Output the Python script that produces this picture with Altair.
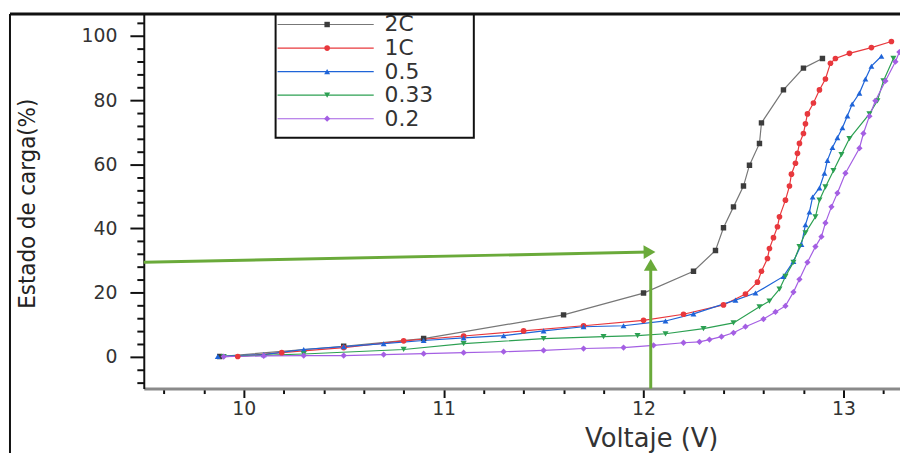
import altair as alt
import pandas as pd

# ---------------- data ----------------
series_names = ["2C", "1C", "0.5", "0.33", "0.2"]
marker_colors = ["#3c3c3c", "#e8383d", "#1f64d8", "#2ca052", "#a45fe3"]
line_colors = ["#777777", "#e8383d", "#1f64d8", "#2ca052", "#a45fe3"]
marker_shapes = ["square", "circle", "triangle-up", "triangle-down", "diamond"]
marker_sizes = [30, 40, 55, 55, 60]

v_2c = [9.88, 10.5, 10.9, 11.6, 12.0, 12.25, 12.36, 12.40, 12.45, 12.50, 12.53, 12.58, 12.59, 12.70, 12.80, 12.895]
soc_2c = [0.0, 3.2, 5.6, 13.0, 19.8, 26.6, 33.1, 40.2, 46.7, 53.2, 59.7, 66.5, 72.9, 83.2, 90.0, 93.0]

v_1c = [9.97, 10.19, 10.5, 10.8, 11.1, 11.4, 11.7, 12.0, 12.2, 12.40, 12.51, 12.57, 12.59, 12.62, 12.63,
        12.65, 12.67, 12.68, 12.71, 12.73, 12.74, 12.76, 12.77, 12.78, 12.80, 12.81, 12.82, 12.85, 12.88,
        12.91, 12.935, 12.96, 13.03, 13.14, 13.24]
soc_1c = [0.0, 1.2, 2.8, 4.9, 6.4, 8.0, 9.6, 11.3, 13.2, 16.1, 19.5, 23.2, 26.6, 30.6, 33.7,
          37.1, 40.5, 43.6, 48.8, 53.2, 56.9, 60.3, 63.4, 66.5, 69.6, 72.6, 75.7, 79.1, 83.2,
          86.6, 91.5, 93.0, 94.6, 96.4, 98.3]

v_05 = [9.87, 10.1, 10.3, 10.5, 10.7, 10.9, 11.1, 11.3, 11.5, 11.7, 11.9, 12.11, 12.25, 12.46, 12.56,
        12.70, 12.75, 12.79, 12.81, 12.83, 12.846, 12.88, 12.905, 12.92, 12.945, 12.97, 12.995, 13.02,
        13.044, 13.08, 13.11, 13.14, 13.19]
soc_05 = [0.0, 0.6, 2.2, 3.1, 4.0, 5.0, 5.8, 6.5, 8.0, 9.3, 9.6, 11.1, 13.3, 17.6, 19.8,
          25.0, 29.7, 35.0, 41.1, 45.1, 49.8, 52.6, 57.2, 61.2, 65.2, 68.3, 71.4, 75.1,
          78.8, 82.2, 86.6, 90.6, 93.7]

v_033 = [9.9, 10.3, 10.8, 11.1, 11.5, 11.8, 11.97, 12.11, 12.30, 12.45, 12.58, 12.63, 12.68, 12.71,
         12.75, 12.78, 12.81, 12.86, 12.88, 12.91, 12.95, 12.99, 13.03, 13.13, 13.17, 13.20, 13.25]
soc_033 = [0.0, 0.8, 2.2, 4.0, 5.6, 6.2, 6.5, 7.1, 8.7, 10.5, 15.5, 17.3, 21.0, 25.0,
           29.4, 34.3, 38.6, 43.6, 48.8, 52.9, 58.0, 63.0, 68.0, 75.7, 79.8, 86.0, 93.0]

v_02 = [9.9, 10.1, 10.3, 10.5, 10.7, 10.9, 11.1, 11.3, 11.5, 11.7, 11.9, 12.05, 12.20, 12.28, 12.33,
        12.39, 12.45, 12.51, 12.60, 12.66, 12.71, 12.75, 12.78, 12.82, 12.86, 12.89, 12.91, 12.94,
        12.97, 13.01, 13.08, 13.10, 13.13, 13.16, 13.21, 13.26, 13.28]
soc_02 = [0.0, 0.2, 0.3, 0.3, 0.6, 0.9, 1.2, 1.5, 1.9, 2.5, 2.8, 3.5, 4.3, 4.6, 5.3,
          6.2, 7.4, 9.3, 11.7, 13.9, 15.8, 20.1, 24.1, 29.4, 34.3, 37.4, 41.7, 46.7,
          51.0, 57.2, 65.0, 69.6, 75.0, 79.8, 86.0, 92.0, 95.0]

x_ticks = [9.6, 9.8, 10.0, 10.2, 10.4, 10.6, 10.8, 11.0, 11.2, 11.4, 11.6, 11.8,
           12.0, 12.2, 12.4, 12.6, 12.8, 13.0, 13.2]
y_ticks = [-8, -4, 0, 4, 8, 12, 16, 20, 24, 28, 32, 36, 40, 44, 48, 52, 56, 60,
           64, 68, 72, 76, 80, 84, 88, 92, 96, 100, 104]

# arrows (annotation, data coordinates)
arrow_v = [9.5, 12.036]
arrow_soc = [29.4, -10.0]
arrow_v2 = [12.03, 12.036]
arrow_soc2 = [32.6, 28.6]
arrow_shape = ["triangle-right", "triangle-up"]
arrow_angle = [359, 0]

# legend rows (in the chart's SOC units, top to bottom)
legend_soc = [103.6, 96.25, 88.9, 81.55, 74.2]

# ---------------- tables ----------------
rows = []
for name, vs, ss in [("2C", v_2c, soc_2c), ("1C", v_1c, soc_1c), ("0.5", v_05, soc_05),
                     ("0.33", v_033, soc_033), ("0.2", v_02, soc_02)]:
    for v, s in zip(vs, ss):
        rows.append({"serie": name, "V": v, "SOC": s})
df = pd.DataFrame(rows)

legend_df = pd.DataFrame({"serie": series_names, "SOC": legend_soc})
arrows_df = pd.DataFrame({"V": arrow_v, "SOC": arrow_soc, "V2": arrow_v2, "SOC2": arrow_soc2,
                          "forma": arrow_shape, "ang": arrow_angle})

# ---------------- scales / axes ----------------
W, H = 763, 378
x_scale = alt.Scale(domain=[9.5, 13.283], nice=False, zero=False)
y_scale = alt.Scale(domain=[-10, 106.9], nice=False, zero=False)
color_scale = alt.Scale(domain=series_names, range=marker_colors)
stroke_scale = alt.Scale(domain=series_names, range=line_colors)
shape_scale = alt.Scale(domain=series_names, range=marker_shapes)
size_scale = alt.Scale(domain=series_names, range=marker_sizes)

x_axis = alt.Axis(
    values=x_ticks, tickCount=60, title="Voltaje (V)", grid=False,
    labelExpr="abs(datum.value - round(datum.value)) < 0.01 ? format(datum.value, 'd') : ''",
    tickSize={"condition": {"test": "abs(datum.value - round(datum.value)) < 0.01", "value": 9}, "value": 5},
    tickWidth=2, tickColor="#111111", domainColor="#8a8a8a", domainWidth=3,
    labelFont="DejaVu Sans", labelFontSize=19, labelColor="#333333", labelPadding=2,
    labelOverlap=False, labelFlush=False,
    titleFont="DejaVu Sans", titleFontSize=26, titleFontWeight="normal", titleColor="#333333",
    titleX=512, titleY=50, titleBaseline="middle", titleAlign="center",
)
y_axis = alt.Axis(
    values=y_ticks, tickCount=60, title="Estado de carga(%)", grid=False,
    labelExpr="datum.value % 20 === 0 ? datum.label : ''",
    tickSize={"condition": {"test": "datum.value % 20 === 0", "value": 14}, "value": 7},
    tickWidth=2, tickColor="#111111", domainColor="#111111", domainWidth=2,
    labelFont="DejaVu Sans", labelFontSize=19, labelColor="#333333", labelPadding=13,
    labelOverlap=False, labelFlush=False,
    titleFont="DejaVu Sans Condensed, Liberation Sans Narrow, Liberation Sans, sans-serif",
    titleFontSize=24, titleFontWeight="normal", titleColor="#222222",
    titleX=-117, titleY=191, titleAngle=270, titleBaseline="middle", titleAlign="center",
)

X = alt.X("V:Q", scale=x_scale, axis=x_axis)
Y = alt.Y("SOC:Q", scale=y_scale, axis=y_axis)

lines = alt.Chart(df).mark_line(strokeWidth=1.2, clip=True).encode(
    x=X, y=Y,
    stroke=alt.Stroke("serie:N", scale=stroke_scale, legend=None),
    detail="serie:N",
)
points = alt.Chart(df).mark_point(filled=True, opacity=1, clip=True).encode(
    x="V:Q", y="SOC:Q",
    color=alt.Color("serie:N", scale=color_scale, legend=None),
    shape=alt.Shape("serie:N", scale=shape_scale, legend=None),
    size=alt.Size("serie:N", scale=size_scale, legend=None),
)
arrow_lines = alt.Chart(arrows_df).mark_rule(color="#6aaa3a", strokeWidth=3).encode(
    x="V:Q", y="SOC:Q", x2="V2:Q", y2="SOC2:Q",
)
arrow_heads = alt.Chart(arrows_df).mark_point(filled=True, color="#6aaa3a", opacity=1, size=190).encode(
    x="V2:Q", y="SOC2:Q",
    shape=alt.Shape("forma:N", scale=None, legend=None),
    angle=alt.Angle("ang:Q", scale=None),
)

# ---------------- legend & frame (decoration) ----------------
one = alt.Data(values=[{}])
legend_box = alt.Chart(one).mark_rect(fill="white", stroke="#111111", strokeWidth=2).encode(
    x=alt.value(133), x2=alt.value(333), y=alt.value(0), y2=alt.value(125),
)
legend_lines = alt.Chart(legend_df).mark_rule(strokeWidth=1.2).encode(
    x=alt.value(135), x2=alt.value(232), y="SOC:Q",
    stroke=alt.Stroke("serie:N", scale=stroke_scale, legend=None),
)
legend_pts = alt.Chart(legend_df).mark_point(filled=True, opacity=1).encode(
    x=alt.value(185), y="SOC:Q",
    color=alt.Color("serie:N", scale=color_scale, legend=None),
    shape=alt.Shape("serie:N", scale=shape_scale, legend=None),
    size=alt.Size("serie:N", scale=size_scale, legend=None),
)
legend_txt = alt.Chart(legend_df).mark_text(
    align="left", baseline="middle", font="DejaVu Sans", fontSize=22, color="#333333"
).encode(x=alt.value(243), y="SOC:Q", text="serie:N")

frame_top = alt.Chart(one).mark_rule(color="#111111", strokeWidth=3).encode(
    x=alt.value(-135), x2=alt.value(W + 10), y=alt.value(0)
)
frame_left = alt.Chart(one).mark_rule(color="#111111", strokeWidth=2).encode(
    x=alt.value(-135), y=alt.value(0), y2=alt.value(H + 100)
)

chart = alt.layer(
    lines, points, arrow_lines, arrow_heads,
    legend_box, legend_lines, legend_pts, legend_txt,
    frame_top, frame_left,
).properties(
    width=W, height=H,
    autosize=alt.AutoSizeParams(type="none"),
    padding={"left": 137, "top": 4, "right": 0, "bottom": 63},
    background="white",
).configure_view(stroke=None)

chart.save("out.html", embed_options={"renderer": "svg", "actions": False})
